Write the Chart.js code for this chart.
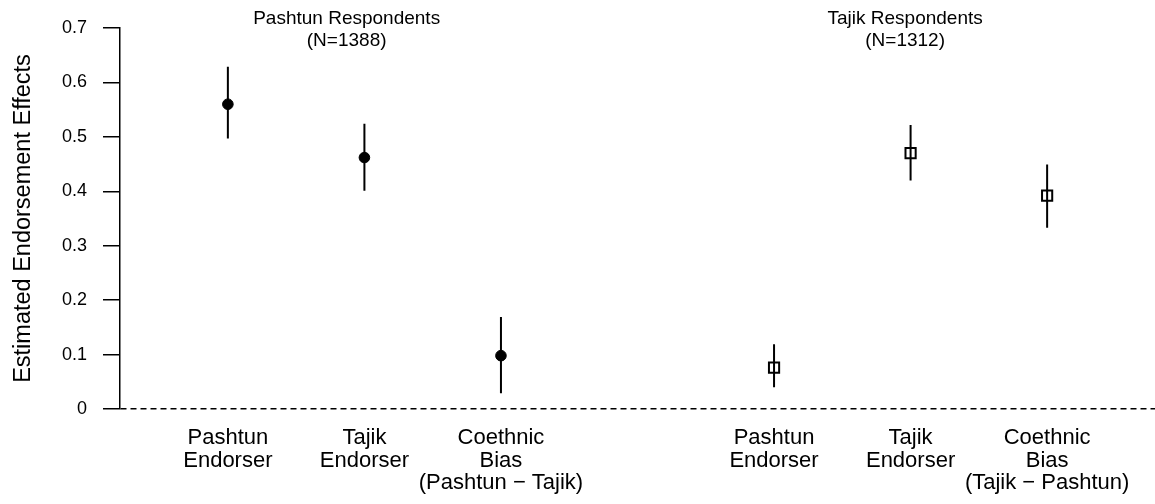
<!DOCTYPE html>
<html>
<head>
<meta charset="utf-8">
<script src="https://cdn.jsdelivr.net/npm/chart.js@4"></script>
<style>
  body { margin: 0; background: #ffffff; }
  canvas { display: block; }
</style>
</head>
<body>
<canvas id="effectsChart" width="1155" height="504"></canvas>
<script>
// Estimated endorsement effects with 95% intervals, two respondent groups
const pashtunX = [0, 1, 2];
const tajikX = [4, 5, 6];

const pashtunLabels = [
  ["Pashtun", "Endorser"],
  ["Tajik", "Endorser"],
  ["Coethnic", "Bias", "(Pashtun \u2212 Tajik)"],
];
const tajikLabels = [
  ["Pashtun", "Endorser"],
  ["Tajik", "Endorser"],
  ["Coethnic", "Bias", "(Tajik \u2212 Pashtun)"],
];

const pashtunEst = [0.560, 0.462, 0.098];
const pashtunLo = [0.497, 0.401, 0.029];
const pashtunHi = [0.629, 0.524, 0.169];

const tajikEst = [0.076, 0.470, 0.392];
const tajikLo = [0.040, 0.420, 0.333];
const tajikHi = [0.119, 0.522, 0.449];

// headings sit roughly over the middle of each panel
const groupCenters = [0.87, 4.96];
const groupTitles = [
  ["Pashtun Respondents", "(N=1388)"],
  ["Tajik Respondents", "(N=1312)"],
];

const yTicks = [0, 0.1, 0.2, 0.3, 0.4, 0.5, 0.6, 0.7];

const FONT = "'Liberation Sans', Arial, Helvetica, sans-serif";

// helpers to turn the arrays into chart.js points
function toPoints(xs, ys) {
  return xs.map((x, i) => ({ x: x, y: ys[i] }));
}

function toBars(xs, lo, hi) {
  const pts = [];
  xs.forEach((x, i) => {
    pts.push({ x: x, y: lo[i] });
    pts.push({ x: x, y: hi[i] });
    pts.push({ x: x, y: null });
  });
  return pts;
}

const tickPositions = pashtunX.concat(tajikX);
const tickLabels = pashtunLabels.concat(tajikLabels);

// group headings above each panel
const groupTitlePlugin = {
  id: "groupTitles",
  afterDraw(chart) {
    const ctx = chart.ctx;
    const xScale = chart.scales.x;
    ctx.save();
    ctx.fillStyle = "#000000";
    ctx.font = "19px " + FONT;
    ctx.textAlign = "center";
    ctx.textBaseline = "alphabetic";
    groupCenters.forEach((c, i) => {
      const px = xScale.getPixelForValue(c);
      groupTitles[i].forEach((line, j) => {
        ctx.fillText(line, px, 24 + j * 21.5);
      });
    });
    ctx.restore();
  },
};

const barStyle = {
  type: "scatter",
  showLine: true,
  spanGaps: false,
  borderColor: "#000000",
  borderWidth: 2,
  pointRadius: 0,
  pointHoverRadius: 0,
};

new Chart(document.getElementById("effectsChart"), {
  type: "scatter",
  data: {
    datasets: [
      Object.assign({ data: toBars(pashtunX, pashtunLo, pashtunHi) }, barStyle),
      Object.assign({ data: toBars(tajikX, tajikLo, tajikHi) }, barStyle),
      {
        label: "Pashtun respondents",
        data: toPoints(pashtunX, pashtunEst),
        pointStyle: "circle",
        pointRadius: 5.3,
        pointBackgroundColor: "#000000",
        pointBorderColor: "#000000",
        pointBorderWidth: 1,
      },
      {
        label: "Tajik respondents",
        data: toPoints(tajikX, tajikEst),
        pointStyle: "rect",
        pointRadius: 7.2,
        pointBackgroundColor: "rgba(0,0,0,0)",
        pointBorderColor: "#000000",
        pointBorderWidth: 2,
      },
    ],
  },
  options: {
    responsive: false,
    animation: false,
    devicePixelRatio: 1,
    layout: { autoPadding: false, padding: { left: 0, right: 0, top: 28, bottom: 0 } },
    plugins: {
      legend: { display: false },
      tooltip: { enabled: false },
    },
    scales: {
      x: {
        type: "linear",
        min: -0.79,
        max: 6.79,
        afterBuildTicks(scale) {
          scale.ticks = tickPositions.map((v) => ({ value: v }));
        },
        afterFit(scale) {
          scale.height = 95;
        },
        grid: { display: false, drawTicks: false },
        border: { display: false },
        ticks: {
          color: "#000000",
          padding: 18,
          autoSkip: false,
          maxRotation: 0,
          font: { family: FONT, size: 22, lineHeight: 1.02 },
          callback(value) {
            const i = tickPositions.indexOf(value);
            return i >= 0 ? tickLabels[i] : "";
          },
        },
      },
      y: {
        min: 0,
        max: 0.7,
        afterBuildTicks(scale) {
          scale.ticks = yTicks.map((v) => ({ value: v }));
        },
        afterFit(scale) {
          scale.width = 120;
        },
        grid: {
          drawOnChartArea: true,
          drawTicks: true,
          tickLength: 17,
          // only the zero line runs across the plot, dashed
          color: (ctx) => (ctx.tick && ctx.tick.value === 0 ? "#000000" : "rgba(0,0,0,0)"),
          tickColor: "#000000",
          lineWidth: 1.5,
        },
        border: { display: true, color: "#000000", width: 1.5, dash: [6, 4] },
        ticks: {
          color: "#000000",
          padding: 16,
          font: { family: FONT, size: 18 },
          callback(value) {
            return value === 0 ? "0" : value.toFixed(1);
          },
        },
        title: {
          display: true,
          text: "Estimated Endorsement Effects",
          color: "#000000",
          font: { family: FONT, size: 23.5, lineHeight: 1.2 },
          padding: { top: 9, bottom: 0 },
        },
      },
    },
  },
  plugins: [groupTitlePlugin],
});
</script>
</body>
</html>
